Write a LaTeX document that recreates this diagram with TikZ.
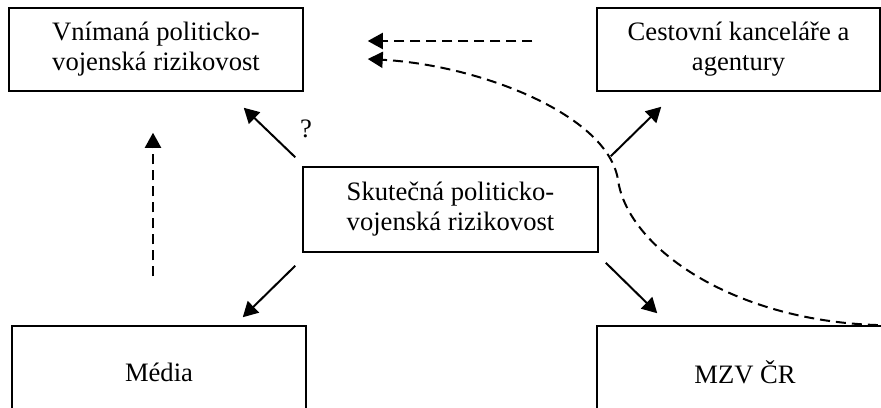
\documentclass[tikz,border=0pt]{standalone}
\usepackage{fontspec}
\setmainfont{Liberation Serif}
\usetikzlibrary{arrows.meta}
\begin{document}
\begin{tikzpicture}[x=0.5pt,y=-0.5pt,
  box/.style={draw,line width=0.75pt,align=center,inner sep=0pt,font=\fontsize{13.3}{15}\selectfont},
  arr/.style={line width=1pt,-{Triangle[length=7.5pt,width=8pt]}},
  darr/.style={line width=1pt,dash pattern=on 5pt off 3pt,-{Triangle[length=7.5pt,width=8pt]}}]
\useasboundingbox (0,0) rectangle (881,407);
\clip (0,0) rectangle (881,407);
\node[box,minimum width=147pt,minimum height=41.5pt] (A) at (156,49.5) {Vnímaná politicko-\\vojenská rizikovost};
\node[box,minimum width=141.5pt,minimum height=41.5pt] (B) at (738.5,49.5) {Cestovní kanceláře a\\agentury};
\node[box,minimum width=147.5pt,minimum height=42.5pt] (C) at (450.5,209.5) {Skutečná politicko-\\vojenská rizikovost};
\node[box,minimum width=147pt,minimum height=46pt] (D) at (159,372) {Média};
\node[box,minimum width=148pt,minimum height=46pt] (E) at (745,372) {MZV ČR};
\node[font=\fontsize{13.3}{15}\selectfont,inner sep=0pt] (q) at (306,129) {?};
\draw[arr] ([shift={(-7,-9)}]C.north west) -- ([shift={(-60,16)}]A.south east);
\draw[arr] ([shift={(12,-10)}]C.north east) -- ([shift={(65,15)}]B.south west);
\draw[arr] ([shift={(-7,13)}]C.south west) -- ([shift={(-64,-8)}]D.north east);
\draw[arr] ([shift={(7,10)}]C.south east) -- ([shift={(61,-12)}]E.north west);
\draw[darr] ([shift={(-6,-49)}]D.north) -- ([shift={(-3,41)}]A.south);
\draw[darr] ([shift={(-64,-8.5)}]B.west) -- ([shift={(64,-8.5)}]A.east);
\coordinate (m) at (618,180);
\draw[darr] (E.north east) .. controls (740,326) and (628,250) .. (m)
  .. controls (608,115) and (480,65) .. ([shift={(64,9.5)}]A.east);
\end{tikzpicture}
\end{document}
